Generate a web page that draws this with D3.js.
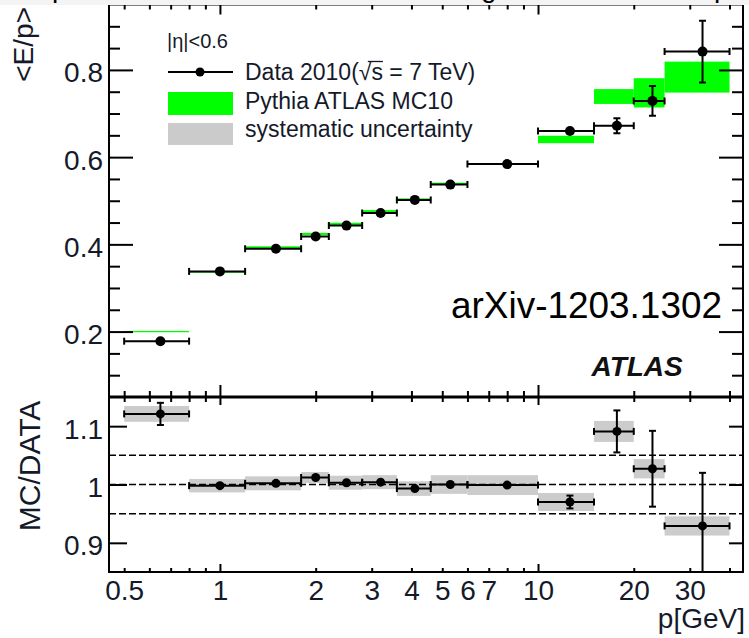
<!DOCTYPE html>
<html>
<head>
<meta charset="utf-8">
<script src="https://cdnjs.cloudflare.com/ajax/libs/d3/7.8.5/d3.min.js"></script>
<style>
    body { margin: 0; background: #fff; }
    svg { display: block; font-family: "Liberation Sans", Arial, sans-serif; }
</style>
</head>
<body>
<svg id="chart" width="749" height="638"></svg>
<script>
// momentum bins (GeV)
var binLo = [0.5, 0.8, 1.2, 1.8, 2.2, 2.8, 3.6, 4.6, 6, 10, 15, 20, 25];
var binHi = [0.8, 1.2, 1.8, 2.2, 2.8, 3.6, 4.6, 6, 10, 15, 20, 25, 40];
var pCenter = [0.65, 1.0, 1.5, 2.0, 2.5, 3.2, 4.1, 5.3, 8.0, 12.6, 17.7, 22.9, 32.9];

// <E/p> data 2010 and stat errors
var dataEp = [0.178, 0.338, 0.390, 0.418, 0.443, 0.472, 0.502, 0.537, 0.584, 0.660, 0.672, 0.729, 0.842];
var dataErr = [0.002, 0.002, 0.002, 0.002, 0.002, 0.002, 0.002, 0.002, 0.002, 0.003, 0.017, 0.034, 0.071];

// Pythia ATLAS MC10 (centre, half height of the box)
var mcEp = [0.200, 0.337, 0.393, 0.424, 0.447, 0.476, 0.503, 0.539, 0.584, 0.6405, 0.739, 0.7475, 0.7835];
var mcErr = [0.0015, 0.002, 0.0025, 0.0025, 0.0025, 0.0025, 0.0025, 0.0025, 0.002, 0.0085, 0.017, 0.0335, 0.0355];

// MC/DATA ratio
var ratio = [1.121, 0.998, 1.002, 1.012, 1.003, 1.004, 0.993, 1.000, 0.999, 0.970, 1.091, 1.027, 0.929];
var ratioErr = [0.019, 0.002, 0.002, 0.002, 0.002, 0.002, 0.002, 0.002, 0.002, 0.011, 0.036, 0.065, 0.091];
var ratioSyst = [0.0135, 0.0115, 0.012, 0.0095, 0.012, 0.012, 0.0125, 0.016, 0.017, 0.0155, 0.018, 0.0165, 0.0165];
var ratioLines = [0.95, 1.0, 1.05];

// ticks
var xMajor = [1, 10];
var xMinor = [0.5, 0.6, 0.7, 0.8, 0.9, 2, 3, 4, 5, 6, 7, 8, 9, 20, 30, 40];
var xLabels = [0.5, 1, 2, 3, 4, 5, 6, 7, 10, 20, 30];
var yUpMajor = [0.2, 0.4, 0.6, 0.8];
var yUpMinor = [0.1, 0.15, 0.25, 0.3, 0.35, 0.45, 0.5, 0.55, 0.65, 0.7, 0.75, 0.85, 0.9];
var yLoMajor = [0.9, 1.0, 1.1];

var svg = d3.select('#chart');
// frame edges (px); "top" would clash with window.top
var pLeft = 109, pRight = 743, pTop = 4.5, pMid = 397, pBottom = 572;
var labelColor = '#151a2a';

var x = d3.scaleLog().domain([0.448, 44.1]).range([pLeft, pRight]);
var yUp = d3.scaleLinear().domain([0.05, 0.95]).range([pMid, pTop]);
var yLo = d3.scaleLinear().domain([0.85, 1.15]).range([pBottom, pMid]);
var idx = d3.range(binLo.length);

var defs = svg.append('defs');
defs.append('clipPath').attr('id', 'clipUp').append('rect')
    .attr('x', pLeft).attr('y', pTop).attr('width', pRight - pLeft).attr('height', pMid - pTop);
defs.append('clipPath').attr('id', 'clipLo').append('rect')
    .attr('x', pLeft).attr('y', pMid).attr('width', pRight - pLeft).attr('height', pBottom - pMid);
defs.append('clipPath').attr('id', 'clipBand').append('rect')
    .attr('x', 0).attr('y', 0).attr('width', 749).attr('height', 5);

function drawPoints(g, y, vals, errs, r) {
    var pts = g.selectAll('g.pt').data(idx).enter().append('g').attr('class', 'pt')
        .attr('stroke', '#000').attr('stroke-width', 2);
    // horizontal bar with end caps
    pts.append('line')
        .attr('x1', function(i) { return x(binLo[i]); })
        .attr('x2', function(i) { return x(binHi[i]); })
        .attr('y1', function(i) { return y(vals[i]); })
        .attr('y2', function(i) { return y(vals[i]); });
    [binLo, binHi].forEach(function(edge) {
        pts.append('line')
            .attr('x1', function(i) { return x(edge[i]); })
            .attr('x2', function(i) { return x(edge[i]); })
            .attr('y1', function(i) { return y(vals[i]) - 3.5; })
            .attr('y2', function(i) { return y(vals[i]) + 3.5; });
    });
    // vertical bar with caps
    pts.append('line')
        .attr('x1', function(i) { return x(pCenter[i]); })
        .attr('x2', function(i) { return x(pCenter[i]); })
        .attr('y1', function(i) { return y(vals[i] - errs[i]); })
        .attr('y2', function(i) { return y(vals[i] + errs[i]); });
    [-1, 1].forEach(function(s) {
        pts.append('line')
            .attr('x1', function(i) { return x(pCenter[i]) - 3.5; })
            .attr('x2', function(i) { return x(pCenter[i]) + 3.5; })
            .attr('y1', function(i) { return y(vals[i] + s * errs[i]); })
            .attr('y2', function(i) { return y(vals[i] + s * errs[i]); });
    });
    pts.append('circle')
        .attr('cx', function(i) { return x(pCenter[i]); })
        .attr('cy', function(i) { return y(vals[i]); })
        .attr('r', r).attr('fill', '#000').attr('stroke', 'none');
}

// ---- upper panel
var gUp = svg.append('g').attr('clip-path', 'url(#clipUp)');
gUp.selectAll('rect.mc').data(idx).enter().append('rect').attr('class', 'mc')
    .attr('x', function(i) { return x(binLo[i]); })
    .attr('width', function(i) { return x(binHi[i]) - x(binLo[i]); })
    .attr('y', function(i) { return yUp(mcEp[i] + mcErr[i]); })
    .attr('height', function(i) { return yUp(mcEp[i] - mcErr[i]) - yUp(mcEp[i] + mcErr[i]); })
    .attr('fill', '#00ff00');
drawPoints(gUp, yUp, dataEp, dataErr, 5);

// ---- lower panel
var gLo = svg.append('g').attr('clip-path', 'url(#clipLo)');
gLo.selectAll('rect.syst').data(idx).enter().append('rect').attr('class', 'syst')
    .attr('x', function(i) { return x(binLo[i]); })
    .attr('width', function(i) { return x(binHi[i]) - x(binLo[i]); })
    .attr('y', function(i) { return yLo(ratio[i] + ratioSyst[i]); })
    .attr('height', function(i) { return yLo(ratio[i] - ratioSyst[i]) - yLo(ratio[i] + ratioSyst[i]); })
    .attr('fill', '#cccccc');
gLo.selectAll('line.ref').data(ratioLines).enter().append('line').attr('class', 'ref')
    .attr('x1', pLeft).attr('x2', pRight)
    .attr('y1', function(d) { return yLo(d); }).attr('y2', function(d) { return yLo(d); })
    .attr('stroke', '#000').attr('stroke-width', 1.5).attr('stroke-dasharray', '7,3');
drawPoints(gLo, yLo, ratio, ratioErr, 4.5);

// ---- axes
function ticks(axis, transform, size, width) {
    var g = svg.append('g').attr('transform', transform)
        .call(axis.tickSizeInner(size).tickSizeOuter(0).tickFormat(''));
    g.select('.domain').remove();
    g.selectAll('line').attr('stroke', '#000').attr('stroke-width', width || 2);
    return g;
}
function labels(axis, transform, dy) {
    var g = svg.append('g').attr('transform', transform)
        .call(axis.tickSize(0));
    g.select('.domain').remove();
    g.selectAll('line').remove();
    g.selectAll('text').attr('font-size', 28).attr('fill', labelColor)
        .attr('font-family', '"Liberation Sans", Arial, sans-serif');
    if (dy) g.selectAll('text').attr('dy', dy);
    return g;
}

// upper y
ticks(d3.axisLeft(yUp).tickValues(yUpMajor), 'translate(' + pLeft + ',0)', -24);
ticks(d3.axisLeft(yUp).tickValues(yUpMinor), 'translate(' + pLeft + ',0)', -11);
ticks(d3.axisRight(yUp).tickValues(yUpMajor), 'translate(' + pRight + ',0)', -24);
ticks(d3.axisRight(yUp).tickValues(yUpMinor), 'translate(' + pRight + ',0)', -11);
labels(d3.axisLeft(yUp).tickValues(yUpMajor).tickPadding(6).tickFormat(d3.format('.1f')),
    'translate(' + pLeft + ',0)', '0.43em');

// lower y
ticks(d3.axisLeft(yLo).tickValues(yLoMajor), 'translate(' + pLeft + ',0)', -18);
ticks(d3.axisRight(yLo).tickValues(yLoMajor), 'translate(' + pRight + ',0)', -14);
labels(d3.axisLeft(yLo).tickValues(yLoMajor).tickPadding(6).tickFormat(d3.format('~g')),
    'translate(' + pLeft + ',0)', '0.43em');

// x ticks on every horizontal frame edge
ticks(d3.axisTop(x).tickValues(xMajor), 'translate(0,' + pTop + ')', -10);
ticks(d3.axisTop(x).tickValues(xMinor), 'translate(0,' + pTop + ')', -5);
ticks(d3.axisBottom(x).tickValues(xMajor), 'translate(0,' + pMid + ')', -12);
ticks(d3.axisBottom(x).tickValues(xMinor), 'translate(0,' + pMid + ')', -6);
ticks(d3.axisTop(x).tickValues(xMajor), 'translate(0,' + pMid + ')', -8);
ticks(d3.axisTop(x).tickValues(xMinor), 'translate(0,' + pMid + ')', -5);
ticks(d3.axisBottom(x).tickValues(xMajor), 'translate(0,' + pBottom + ')', -8);
ticks(d3.axisBottom(x).tickValues(xMinor), 'translate(0,' + pBottom + ')', -4);
labels(d3.axisBottom(x).tickValues(xLabels).tickPadding(8).tickFormat(d3.format('~g')),
    'translate(0,' + pBottom + ')');

// frames
svg.append('rect').attr('x', pLeft).attr('y', pTop).attr('width', pRight - pLeft).attr('height', pMid - pTop)
    .attr('fill', 'none').attr('stroke', '#000').attr('stroke-width', 2);
svg.append('rect').attr('x', pLeft).attr('y', pMid).attr('width', pRight - pLeft).attr('height', pBottom - pMid)
    .attr('fill', 'none').attr('stroke', '#000').attr('stroke-width', 2);
svg.append('line').attr('x1', pLeft).attr('x2', pRight).attr('y1', pMid).attr('y2', pMid)
    .attr('stroke', '#000').attr('stroke-width', 3);

// axis titles
svg.append('text').attr('transform', 'translate(33,7) rotate(-90)')
    .attr('text-anchor', 'end').attr('font-size', 28).attr('fill', labelColor).text('<E/p>');
svg.append('text').attr('transform', 'translate(40,466) rotate(-90)')
    .attr('text-anchor', 'middle').attr('font-size', 30).attr('fill', labelColor).text('MC/DATA');
svg.append('text').attr('x', 745).attr('y', 628).attr('text-anchor', 'end')
    .attr('font-size', 28).attr('fill', labelColor).text('p[GeV]');

// legend
var leg = svg.append('g').attr('fill', labelColor);
leg.append('text').attr('x', 167).attr('y', 48).attr('font-size', 20).text('|η|<0.6');
leg.append('line').attr('x1', 168).attr('x2', 233).attr('y1', 72).attr('y2', 72)
    .attr('stroke', '#000').attr('stroke-width', 2);
leg.append('circle').attr('cx', 200).attr('cy', 72).attr('r', 4.5).attr('fill', '#000');
var dataTxt = leg.append('text').attr('x', 245).attr('y', 80).attr('font-size', 23)
    .text('Data 2010(√s = 7 TeV)');
// overline of the square root
var tn = dataTxt.node();
var sx0 = tn.getStartPositionOfChar(10).x + 9, sx1 = tn.getEndPositionOfChar(11).x;
leg.append('line').attr('x1', sx0).attr('x2', sx1).attr('y1', 61.5).attr('y2', 61.5)
    .attr('stroke', labelColor).attr('stroke-width', 1.3);
leg.append('rect').attr('x', 168).attr('y', 92).attr('width', 65).attr('height', 23).attr('fill', '#00ff00');
leg.append('text').attr('x', 245).attr('y', 108.5).attr('font-size', 23).text('Pythia ATLAS MC10');
leg.append('rect').attr('x', 168).attr('y', 123).attr('width', 65).attr('height', 22).attr('fill', '#cbcbcb');
leg.append('text').attr('x', 245).attr('y', 137).attr('font-size', 23).text('systematic uncertainty');

// annotations
svg.append('text').attr('x', 722).attr('y', 318).attr('text-anchor', 'end')
    .attr('font-size', 36).attr('fill', '#000')
    .attr('textLength', 271).attr('lengthAdjust', 'spacingAndGlyphs').text('arXiv-1203.1302');
svg.append('text').attr('x', 591.5).attr('y', 375.5).attr('font-size', 28)
    .attr('font-weight', 'bold').attr('font-style', 'italic').attr('fill', '#111').text('ATLAS');

// cropped caption band along the top edge
var band = svg.append('g');
band.append('rect').attr('x', 0).attr('y', 0).attr('width', 749).attr('height', 5).attr('fill', '#f4f4f4');
band.append('g').attr('clip-path', 'url(#clipBand)').selectAll('text')
    .data([{ x: 52, t: 'p' }, { x: 481, t: 'g' }, { x: 714, t: 'p' }])
    .enter().append('text')
    .attr('x', function(d) { return d.x; }).attr('y', -3)
    .attr('font-size', 28).attr('fill', '#000').text(function(d) { return d.t; });
</script>
</body>
</html>
